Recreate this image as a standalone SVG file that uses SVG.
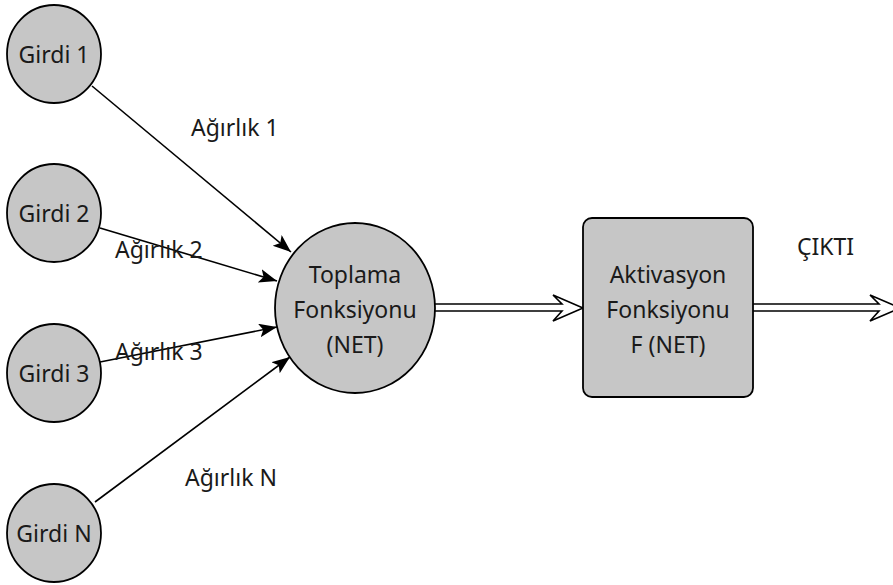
<svg xmlns="http://www.w3.org/2000/svg" width="893" height="585" viewBox="0 0 893 585">
  <style>
    .node { fill: #c6c6c6; stroke: #000; stroke-width: 1.8; }
    .lbl { font-family: "Noto Sans", "Open Sans", sans-serif; font-size: 23px; fill: #1a1a1a; }
    .mid { text-anchor: middle; }
    .edge { stroke: #000; stroke-width: 1.6; fill: none; }
    .dbl { stroke: #000; stroke-width: 1.6; fill: #fff; stroke-linejoin: miter; }
  </style>
  <defs>
    <marker id="arr" markerUnits="userSpaceOnUse" markerWidth="20" markerHeight="16" refX="18" refY="7" orient="auto">
      <path d="M0,0 L18,7 L0,14 L4,7 z" fill="#000"/>
    </marker>
  </defs>
  <rect width="893" height="585" fill="#fff"/>

  <g id="connectors">
    <line class="edge" x1="92" y1="86" x2="291" y2="252" marker-end="url(#arr)"/>
    <line class="edge" x1="100" y1="228" x2="277" y2="281" marker-end="url(#arr)"/>
    <line class="edge" x1="100" y1="362" x2="277" y2="327" marker-end="url(#arr)"/>
    <line class="edge" x1="95" y1="502" x2="290" y2="357" marker-end="url(#arr)"/>
    <path class="dbl" d="M435,304 L562,304 L553,295 L583,308 L553,321 L562,311 L435,311"/>
    <path class="dbl" d="M753,304 L879,304 L870,295 L900,308 L870,321 L879,311 L753,311"/>
    <text class="lbl" x="191" y="136">Ağırlık 1</text>
    <text class="lbl" x="115" y="258">Ağırlık 2</text>
    <text class="lbl" x="115" y="360">Ağırlık 3</text>
    <text class="lbl" x="185" y="486">Ağırlık N</text>
    <text class="lbl" x="797" y="255">ÇIKTI</text>
  </g>

  <g id="girdi1">
    <ellipse class="node" cx="54" cy="54" rx="47" ry="49"/>
    <text class="lbl mid" x="54" y="63">Girdi 1</text>
  </g>
  <g id="girdi2">
    <ellipse class="node" cx="54" cy="213" rx="47" ry="49"/>
    <text class="lbl mid" x="54" y="222">Girdi 2</text>
  </g>
  <g id="girdi3">
    <ellipse class="node" cx="54" cy="373" rx="47" ry="49"/>
    <text class="lbl mid" x="54" y="382">Girdi 3</text>
  </g>
  <g id="girdiN">
    <ellipse class="node" cx="54" cy="533" rx="47" ry="49"/>
    <text class="lbl mid" x="54" y="542">Girdi N</text>
  </g>
  <g id="toplama">
    <ellipse class="node" cx="355" cy="308" rx="80" ry="85"/>
    <text class="lbl mid" x="355" y="283">Toplama</text>
    <text class="lbl mid" x="355" y="318">Fonksiyonu</text>
    <text class="lbl mid" x="355" y="353">(NET)</text>
  </g>
  <g id="aktivasyon">
    <rect class="node" x="583" y="218" width="170" height="179" rx="9" ry="9"/>
    <text class="lbl mid" x="668" y="283">Aktivasyon</text>
    <text class="lbl mid" x="668" y="318">Fonksiyonu</text>
    <text class="lbl mid" x="668" y="353">F (NET)</text>
  </g>
</svg>
